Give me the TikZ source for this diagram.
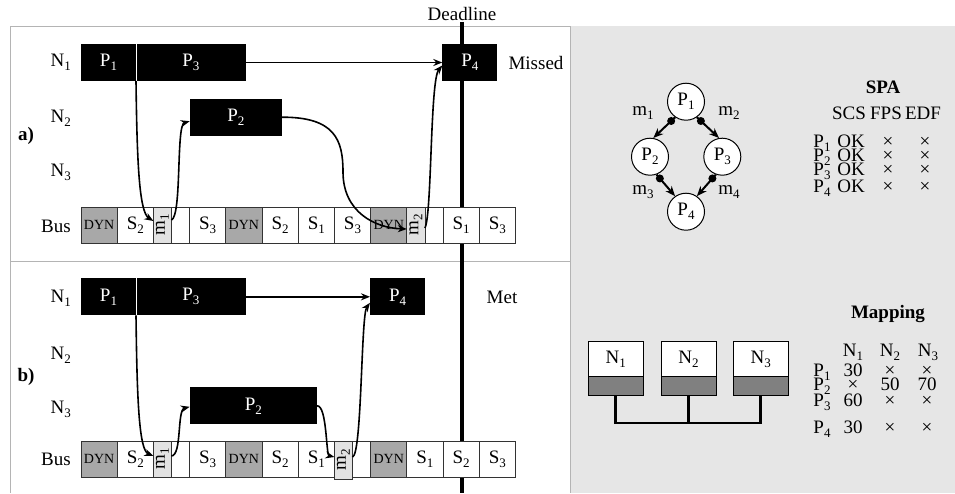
\documentclass[tikz,border=0pt]{standalone}
\usepackage{fontspec}
\setmainfont{Liberation Serif}
\usetikzlibrary{arrows.meta}
\definecolor{panelgray}{HTML}{E6E6E6}
\definecolor{framegray}{HTML}{B4B4B4}
\definecolor{dyngray}{HTML}{A8A8A8}
\definecolor{mgray}{HTML}{E2E2E2}
\definecolor{nodegray}{HTML}{808080}
\newcommand\sbs[1]{\raisebox{-4pt}{\fontsize{13}{13}\selectfont #1}}
\begin{document}
\begin{tikzpicture}[x=1pt,y=-1pt,font=\fontsize{19}{21}\selectfont,
  proc/.style={fill=black,text=white,draw=none,minimum height=37pt,inner sep=0pt,outer sep=0pt,anchor=north west},
  slot/.style={draw=black!80,line width=0.8pt,fill=white,minimum width=36.2pt,minimum height=36pt,inner sep=0pt,outer sep=0pt,anchor=north west},
  dyn/.style={slot,fill=dyngray,font=\fontsize{14}{14}\selectfont},
  half/.style={slot,minimum width=18.1pt},
  msg/.style={half,fill=mgray},
  flow/.style={-{Stealth[length=9pt,width=7pt]},line width=1.6pt},
  lab/.style={inner sep=0pt},
  tab/.style={inner sep=0pt,anchor=base},
  circ/.style={circle,draw,line width=1pt,fill=white,minimum size=37pt,inner sep=0pt},
  gedge/.style={-{Stealth[length=10pt,width=8pt]},line width=2pt},
  gdot/.style={circle,fill=black,minimum size=8pt,inner sep=0pt},
  nbox/.style={draw,line width=1pt,fill=white,minimum width=55pt,minimum height=35.7pt,inner sep=0pt,outer sep=0pt},
  nport/.style={draw,line width=1pt,fill=nodegray,minimum width=55pt,minimum height=18.3pt,inner sep=0pt,outer sep=0pt,anchor=north},
  busline/.style={line width=2.8pt},
  deadline/.style={line width=4pt}]
\useasboundingbox (0,0) rectangle (955,493);
% panels
\fill[panelgray] (570,26) rectangle (955,493);
\draw[framegray,line width=1pt] (10,493) -- (10,26) -- (570,26) -- (570,493);
\draw[framegray,line width=1pt] (10,261) -- (570,261);
% deadline
\coordinate (bottom) at (0,493);
\node[inner sep=1pt] (dl) at (462,14) {Deadline};
\draw[deadline] (dl.south) -- (dl.south |- bottom);
% row labels
\node[lab,anchor=east] (la1) at (71,62) {N\sbs1};
\node[lab,anchor=east] (la2) at (71,118) {N\sbs2};
\node[lab,anchor=east] (la3) at (71,172) {N\sbs3};
\node[lab,anchor=east] (lab4) at (71,226) {Bus};
\node[lab] (la) at (26,136) {\textbf{a)}};
\node[lab,anchor=east] (lb1) at (71,298) {N\sbs1};
\node[lab,anchor=east] (lb2) at (71,355) {N\sbs2};
\node[lab,anchor=east] (lb3) at (71,409) {N\sbs3};
\node[lab,anchor=east] (lbb) at (71,459) {Bus};
\node[lab] (lb) at (26,377) {\textbf{b)}};
\node[lab] (missed) at (536,63) {Missed};
\node[lab] (met) at (502,297) {Met};
% bus a)
\node[dyn] (as0) at (81,207) {DYN};
\node[slot] (as1) at (117.2,207) {S\sbs2};
\node[msg] (am1) at (153.4,207) {};
\node[lab,rotate=90] (am1t) at (am1) {m\sbs1};
\node[half] (ae1) at (171.5,207) {};
\node[slot] (as3) at (189.6,207) {S\sbs3};
\node[dyn] (as4) at (225.8,207) {DYN};
\node[slot] (as5) at (262,207) {S\sbs2};
\node[slot] (as6) at (298.2,207) {S\sbs1};
\node[slot] (as7) at (334.4,207) {S\sbs3};
\node[dyn] (as8) at (370.6,207) {DYN};
\node[msg] (am2) at (406.8,207) {};
\node[lab,rotate=90] (am2t) at (am2) {m\sbs2};
\node[half] (ae2) at (424.9,207) {};
\node[slot] (as10) at (443,207) {S\sbs1};
\node[slot] (as11) at (479.2,207) {S\sbs3};
% bus b)
\node[dyn] (bs0) at (81,441) {DYN};
\node[slot] (bs1) at (117.2,441) {S\sbs2};
\node[msg] (bm1) at (153.4,441) {};
\node[lab,rotate=90] (bm1t) at (bm1) {m\sbs1};
\node[half] (be1) at (171.5,441) {};
\node[slot] (bs3) at (189.6,441) {S\sbs3};
\node[dyn] (bs4) at (225.8,441) {DYN};
\node[slot] (bs5) at (262,441) {S\sbs2};
\node[slot] (bs6) at (298.2,441) {S\sbs1};
\node[half] (be2) at (352.5,441) {};
\node[msg,minimum height=38pt] (bm2) at (334.4,441) {};
\node[lab,rotate=90] (bm2t) at (bm2) {m\sbs2};
\node[dyn] (bs8) at (370.6,441) {DYN};
\node[slot] (bs9) at (406.8,441) {S\sbs1};
\node[slot] (bs10) at (443,441) {S\sbs2};
\node[slot] (bs11) at (479.2,441) {S\sbs3};
% processes a)
\node[proc,minimum width=55pt] (a1) at (81,44) {P\sbs1};
\node[proc,minimum width=109.7pt] (a3) at (136,44) {P\sbs3};
\node[proc,minimum width=55pt] (a4) at (442.3,44) {P\sbs4};
\node[proc,minimum width=92.3pt] (a2) at (189.7,98.7) {P\sbs2};
\draw[white,line width=0.8pt] (a1.north east) -- (a1.south east);
% processes b)
\node[proc,minimum width=55pt] (b1) at (81,278.3) {P\sbs1};
\node[proc,minimum width=109.7pt] (b3) at (136,278.3) {P\sbs3};
\node[proc,minimum width=55.3pt] (b4) at (370,278.3) {P\sbs4};
\node[proc,minimum width=127.3pt] (b2) at (189.7,387.3) {P\sbs2};
\draw[white,line width=0.8pt] (b1.north east) -- (b1.south east);
% arrows a)
\draw[flow] (a3.east) -- (a4.west);
\draw[flow] (a1.south east) .. controls (137,160) and (139,212) .. ([yshift=4pt]am1.west);
\draw[flow] ([yshift=5pt]am1.east) .. controls (182,215) and (176,125) .. ([yshift=-4pt]a2.west);
\draw[flow] (a2.east) .. controls (335,117) and (343,140) .. (343,172) .. controls (343,212) and (375,228) .. ([yshift=-4pt]am2.west);
\draw[flow] ([yshift=-3pt]am2.east) .. controls (432,215) and (430,80) .. ([yshift=-3pt]a4.west);
% arrows b)
\draw[flow] (b3.east) -- (b4.west);
\draw[flow] (b1.south east) .. controls (137,400) and (139,450) .. ([yshift=3pt]bm1.west);
\draw[flow] ([yshift=3pt]bm1.east) .. controls (182,455) and (177,410) .. ([yshift=-1pt]b2.west);
\draw[flow] (b2.east) .. controls (327,405) and (326,455) .. ([yshift=3pt]bm2.west);
\draw[flow] ([yshift=3pt]bm2.east) .. controls (362,455) and (361,315) .. ([yshift=-6pt]b4.west);
% task graph
\node[circ] (g1) at (686,101.7) {P\sbs1};
\node[circ] (g2) at (650,156.7) {P\sbs2};
\node[circ] (g3) at (722.3,156.7) {P\sbs3};
\node[circ] (g4) at (686,211.7) {P\sbs4};
\draw[gedge] (g1.235) -- node[gdot,pos=0.18] (d1) {} (g2.80);
\draw[gedge] (g1.305) -- node[gdot,pos=0.18] (d2) {} (g3.100);
\draw[gedge] (g2.290) -- node[gdot,pos=0.18] (d3) {} (g4.125);
\draw[gedge] (g3.250) -- node[gdot,pos=0.18] (d4) {} (g4.55);
\node[lab] (lm1) at (643,113) {m\sbs1};
\node[lab] (lm2) at (729,113) {m\sbs2};
\node[lab] (lm3) at (643,192) {m\sbs3};
\node[lab] (lm4) at (729,192) {m\sbs4};
% SPA table
\node[tab] (spa) at (883,93) {\textbf{SPA}};
\node[tab] (scs) at (849,119) {SCS};
\node[tab] (fps) at (886,119) {FPS};
\node[tab] (edf) at (923,119) {EDF};
\node[tab] (sp1) at (822,147) {P\sbs1};
\node[tab] (so1) at (851,147) {OK};
\node[tab] (sf1) at (888,147) {×};
\node[tab] (se1) at (925,147) {×};
\node[tab] (sp2) at (822,161) {P\sbs2};
\node[tab] (so2) at (851,161) {OK};
\node[tab] (sf2) at (888,161) {×};
\node[tab] (se2) at (925,161) {×};
\node[tab] (sp3) at (822,175) {P\sbs3};
\node[tab] (so3) at (851,175) {OK};
\node[tab] (sf3) at (888,175) {×};
\node[tab] (se3) at (925,175) {×};
\node[tab] (sp4) at (822,192) {P\sbs4};
\node[tab] (so4) at (851,192) {OK};
\node[tab] (sf4) at (888,192) {×};
\node[tab] (se4) at (925,192) {×};
% architecture
\node[nbox] (n1) at (615.8,358.85) {N\sbs1};
\node[nbox] (n2) at (688.5,358.85) {N\sbs2};
\node[nbox] (n3) at (760.8,358.85) {N\sbs3};
\node[nport] (n1b) at (n1.south) {};
\node[nport] (n2b) at (n2.south) {};
\node[nport] (n3b) at (n3.south) {};
\coordinate (busy) at (0,423);
\draw[busline] (n1b.south) -- (n1b.south |- busy) -| (n3b.south);
\draw[busline] (n2b.south) -- (n2b.south |- busy);
% Mapping table
\node[tab] (map) at (888,318) {\textbf{Mapping}};
\node[tab] (mh1) at (853,356) {N\sbs1};
\node[tab] (mh2) at (890,356) {N\sbs2};
\node[tab] (mh3) at (928,356) {N\sbs3};
\node[tab] (mp1) at (822,376) {P\sbs1};
\node[tab] (m11) at (853,376) {30};
\node[tab] (m12) at (890,376) {×};
\node[tab] (m13) at (927,376) {×};
\node[tab] (mp2) at (822,390) {P\sbs2};
\node[tab] (m21) at (853,390) {×};
\node[tab] (m22) at (890,390) {50};
\node[tab] (m23) at (927,390) {70};
\node[tab] (mp3) at (822,406) {P\sbs3};
\node[tab] (m31) at (853,406) {60};
\node[tab] (m32) at (890,406) {×};
\node[tab] (m33) at (927,406) {×};
\node[tab] (mp4) at (822,433) {P\sbs4};
\node[tab] (m41) at (853,433) {30};
\node[tab] (m42) at (890,433) {×};
\node[tab] (m43) at (927,433) {×};
\end{tikzpicture}
\end{document}
